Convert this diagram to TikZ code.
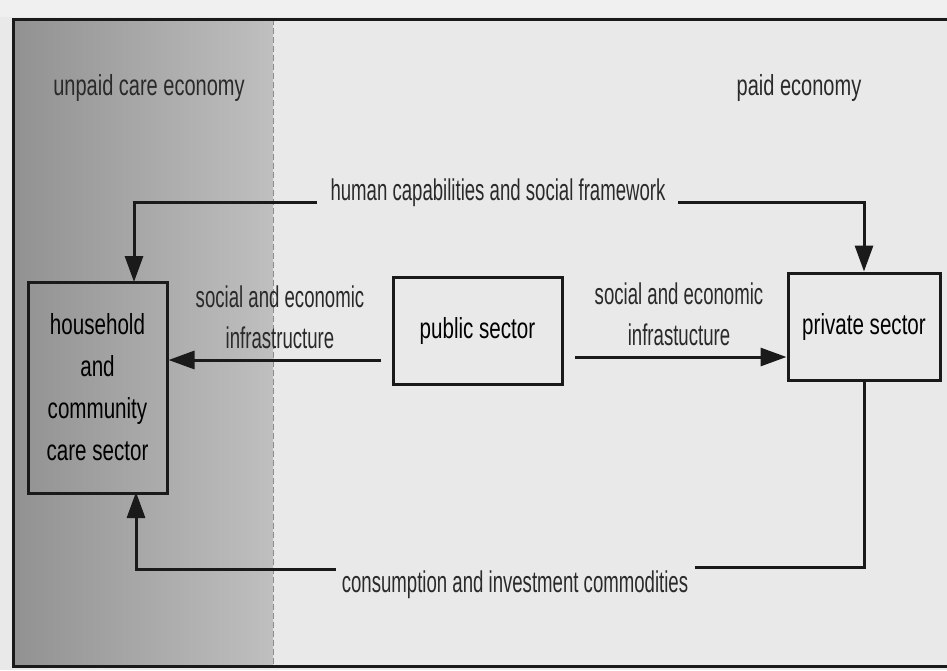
\documentclass[tikz,border=0pt]{standalone}
\usepackage{fontspec}
\setmainfont{Liberation Sans}
\newfontfamily\lblfont{Liberation Sans}[FakeStretch=0.62]
\newfontfamily\boxfont{Liberation Sans}[FakeStretch=0.71]
\newfontfamily\headfont{Liberation Sans}[FakeStretch=0.69]
\usetikzlibrary{arrows.meta}
\definecolor{paper}{HTML}{E9E9E9}
\definecolor{ink}{HTML}{1A1A1A}
\definecolor{lblink}{HTML}{2A2A2A}
\tikzset{
  sector/.style={draw=ink, line width=3pt, minimum width=#1, align=center,
    font=\boxfont\fontsize{29}{42}\selectfont, text=black},
  flowlabel/.style={font=\lblfont\fontsize{30}{41}\selectfont, text=lblink,
    align=center, inner sep=0pt},
  headlabel/.style={font=\headfont\fontsize{29}{32}\selectfont, text=lblink,
    anchor=base, inner sep=0pt},
  flow/.style={draw=ink, line width=3pt,
    -{Triangle[length=26pt, width=18pt]}},
  flowend/.style={draw=ink, line width=3pt},
}
\begin{document}
\begin{tikzpicture}[x=1pt, y=-1pt]
\useasboundingbox (0,0) rectangle (947,670);
% paper and the two economy zones
\fill[paper] (0,0) rectangle (947,670);
\fill[white!94!black] (0,0) rectangle (947,17);
\shade[left color=black!43, right color=black!25] (13,19) rectangle (273,665);
\draw[black!45, line width=1pt, dash pattern=on 6pt off 3pt] (273,19) -- (273,665);
% frame
\draw[ink, line width=3pt] (947,19) -- (13,19) -- (13,666) -- (947,666);

% zone headings
\node[headlabel] (unpaid) at (149,95) {unpaid care economy};
\node[headlabel] (paid) at (799,95) {paid economy};

% sectors
\node[sector=139pt, minimum height=211pt] (hh) at (97.5,387.5)
  {household\\and\\community\\care sector};
\node[sector=169pt, minimum height=107pt] (pub) at (477.5,330.5) {public sector};
\node[sector=152pt, minimum height=107pt] (priv) at (864,326.5) {private sector};

% flow labels (base anchor sits on the last line)
\node[flowlabel, anchor=base] (hcap) at (498,200)
  {human capabilities and social framework};
\node[flowlabel, anchor=base] (infL) at (280,348)
  {social and economic\\infrastructure};
\node[flowlabel, anchor=base] (infR) at (679,345)
  {social and economic\\infrastucture};
\node[flowlabel, anchor=base] (cons) at (515,592)
  {consumption and investment commodities};

% connector end points
\coordinate (hcapL) at (317,202);
\coordinate (hcapR) at (678,202);
\coordinate (pubL) at (381,360);
\coordinate (pubR) at (575,357);
\coordinate (consR) at (695,567);
\coordinate (consL) at (336,569);
\coordinate (hhIn) at (134,282);
\coordinate (hhOut) at (136,492);

% flows
\draw[flow] (hcapL) -| (hhIn);
\draw[flow] (hcapR) -| (priv.north);
\draw[flow] (pubL) -- (hh.east |- pubL);
\draw[flow] (pubR) -- (priv.west |- pubR);
\draw[flowend] (priv.south) |- (consR);
\draw[flow] (consL) -| (hhOut);
\end{tikzpicture}
\end{document}
